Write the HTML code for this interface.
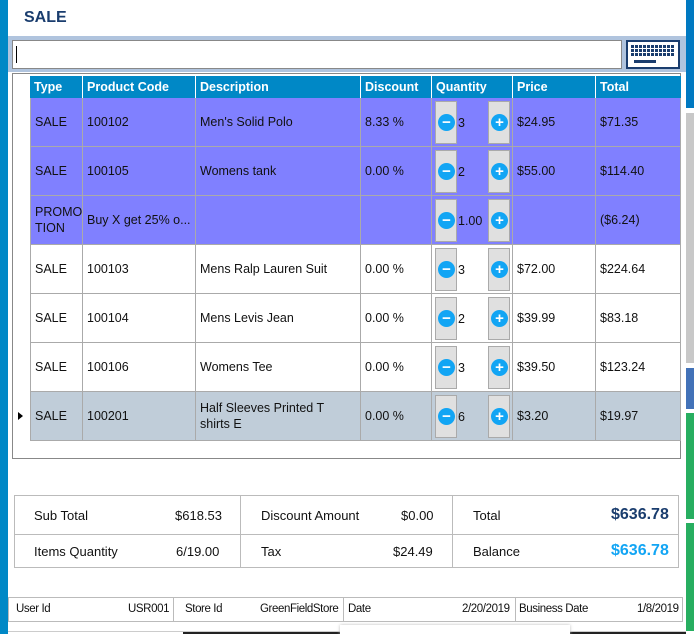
<!DOCTYPE html>
<html><head><style>
*{margin:0;padding:0;box-sizing:border-box}
body{width:694px;height:634px;overflow:hidden;background:#fff;font-family:"Liberation Sans",sans-serif;position:relative;font-size:12.5px;color:#111}
.a{position:absolute}
.hd{background:#0088c6;color:#fff;font-weight:bold;height:22px;line-height:22px;padding-left:4px;border-right:1px solid #fff}
.c{position:absolute;height:49px;border-right:1px solid #aaa;border-bottom:1px solid #aaa;padding-left:4px;display:flex;align-items:center;line-height:16px}
.btn{position:absolute;width:22px;height:43px;background:#e0e0e0;border:1px solid #aaa}
.circ{position:absolute;left:2px;top:12px;width:17px;height:17px;border-radius:50%;background:#12a5f4;color:#fff;font-weight:bold;font-size:15px;line-height:17px;text-align:center}
.sc{position:absolute;font-size:13px}
</style></head><body>
<div class="a" style="left:0;top:0;width:8px;height:634px;background:#0088c6"></div>
<div class="a" style="left:686px;top:0;width:8px;height:108px;background:#0079c1"></div>
<div class="a" style="left:686px;top:113px;width:8px;height:250px;background:#c8c8c8"></div>
<div class="a" style="left:686px;top:368px;width:8px;height:41px;background:#4272b8"></div>
<div class="a" style="left:686px;top:413px;width:8px;height:106px;background:#27ae60"></div>
<div class="a" style="left:686px;top:523px;width:8px;height:108px;background:#27ae60"></div>
<div class="a" style="left:24px;top:9px;font-size:16px;font-weight:bold;color:#1a3d6e">SALE</div>
<div class="a" style="left:8px;top:36px;width:678px;height:36px;background:#b0c4de"></div>
<div class="a" style="left:12px;top:40px;width:610px;height:29px;background:#fff;border:1px solid #888"><div style="position:absolute;left:3px;top:5px;width:1px;height:17px;background:#000"></div></div>
<div class="a" style="left:626px;top:40px;width:54px;height:29px;background:#fff;border:2px solid #1a3d6e">
<div style="position:absolute;left:3px;top:3px;width:44px;height:12px;background:repeating-linear-gradient(90deg,#1a3d6e 0 3px,transparent 3px 4px),#fff;-webkit-mask:repeating-linear-gradient(#000 0 3px,transparent 3px 4px)"></div>
<div style="position:absolute;left:6px;top:18px;width:22px;height:3px;background:#1a3d6e"></div></div>
<div class="a" style="left:12px;top:73px;width:669px;height:386px;border:1px solid #888;background:#fff"></div>
<div class="a" style="left:30px;top:76px;width:651px;height:22px">
<div class="a hd" style="left:0;width:53px">Type</div><div class="a hd" style="left:53px;width:113px">Product Code</div><div class="a hd" style="left:166px;width:165px">Description</div><div class="a hd" style="left:331px;width:71px">Discount</div><div class="a hd" style="left:402px;width:81px">Quantity</div><div class="a hd" style="left:483px;width:83px">Price</div><div class="a hd" style="left:566px;width:85px;border:none">Total</div></div>
<div class="a" id="rows" style="left:30px;top:98px;width:651px"></div>
<div class="a" style="left:18px;top:412px;width:0;height:0;border-left:5px solid #000;border-top:4px solid transparent;border-bottom:4px solid transparent"></div>
<script>
var d=[["SALE","100102","Men's Solid Polo","8.33 %","3","$24.95","$71.35","#8080ff"],
["SALE","100105","Womens tank","0.00 %","2","$55.00","$114.40","#8080ff"],
["PROMO<br>TION","Buy X get 25% o...","","","1.00","","($6.24)","#8080ff"],
["SALE","100103","Mens Ralp Lauren Suit","0.00 %","3","$72.00","$224.64","#fff"],
["SALE","100104","Mens Levis Jean","0.00 %","2","$39.99","$83.18","#fff"],
["SALE","100106","Womens Tee","0.00 %","3","$39.50","$123.24","#fff"],
["SALE","100201","Half Sleeves Printed T<br>shirts E","0.00 %","6","$3.20","$19.97","#c0cdd9"]];
var L=[0,53,166,331,402,483,566,651],h="";
d.forEach(function(r,i){var t=i*49;
for(var j=0;j<7;j++){var w=L[j+1]-L[j];var txt=j==4?"":r[j];
h+='<div class="c" style="top:'+t+'px;left:'+L[j]+'px;width:'+w+'px;background:'+r[7]+';'+(j==0?'border-left:1px solid #aaa;':'')+'">'+txt+'</div>';}
h+='<div class="btn" style="left:405px;top:'+(t+3)+'px"><div class="circ">&minus;</div></div>';
h+='<div class="a" style="left:428px;top:'+(t+18)+'px">'+r[4]+'</div>';
h+='<div class="btn" style="left:458px;top:'+(t+3)+'px"><div class="circ">+</div></div>';});
document.getElementById('rows').innerHTML=h;
</script>
<div class="a" style="left:14px;top:495px;width:665px;height:73px;border:1px solid #bbb"></div>
<div class="a" style="left:14px;top:534px;width:665px;height:1px;background:#bbb"></div>
<div class="a" style="left:240px;top:495px;width:1px;height:73px;background:#bbb"></div>
<div class="a" style="left:452px;top:495px;width:1px;height:73px;background:#bbb"></div>
<div class="sc" style="left:34px;top:508px">Sub Total</div><div class="sc" style="left:175px;top:508px">$618.53</div>
<div class="sc" style="left:34px;top:544px">Items Quantity</div><div class="sc" style="left:176px;top:544px">6/19.00</div>
<div class="sc" style="left:261px;top:508px">Discount Amount</div><div class="sc" style="left:401px;top:508px">$0.00</div>
<div class="sc" style="left:261px;top:544px">Tax</div><div class="sc" style="left:393px;top:544px">$24.49</div>
<div class="sc" style="left:473px;top:508px">Total</div><div class="sc" style="left:611px;top:506px;font-size:16px;font-weight:bold;color:#1a3d6e">$636.78</div>
<div class="sc" style="left:473px;top:544px">Balance</div><div class="sc" style="left:611px;top:542px;font-size:16px;font-weight:bold;color:#12a5f4">$636.78</div>
<div class="a" style="left:8px;top:597px;width:675px;height:25px;border:1px solid #bbb;font-size:11.5px;letter-spacing:-0.4px">
<div class="a" style="left:7px;top:5px">User Id</div><div class="a" style="left:119px;top:5px">USR001</div>
<div class="a" style="left:164px;top:0;width:1px;height:23px;background:#bbb"></div>
<div class="a" style="left:176px;top:5px">Store Id</div><div class="a" style="left:251px;top:5px">GreenFieldStore</div>
<div class="a" style="left:334px;top:0;width:1px;height:23px;background:#bbb"></div>
<div class="a" style="left:339px;top:5px">Date</div><div class="a" style="left:453px;top:5px">2/20/2019</div>
<div class="a" style="left:506px;top:0;width:1px;height:23px;background:#bbb"></div>
<div class="a" style="left:510px;top:5px">Business Date</div><div class="a" style="left:628px;top:5px">1/8/2019</div></div>
<div class="a" style="left:8px;top:631px;width:678px;height:1px;background:#ccc"></div>
<div class="a" style="left:183px;top:632px;width:503px;height:2px;background:#222"></div>
<div class="a" style="left:340px;top:625px;width:230px;height:9px;background:#fff;box-shadow:0 0 3px #bbb"></div>
</body></html>
